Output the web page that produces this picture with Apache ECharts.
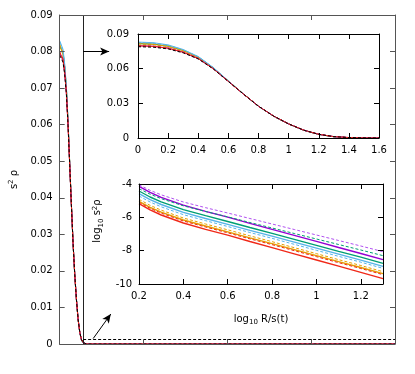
<!DOCTYPE html>
<html><head><meta charset="utf-8">
<script src="https://cdn.jsdelivr.net/npm/echarts/dist/echarts.min.js"></script>
<style>html,body{margin:0;padding:0;background:#fff}#c{width:415px;height:374px}</style>
</head><body><div id="c"></div>
<script>
// ---- profile s^2 rho vs R/s(t) (top inset and main panel) ----
const profX = [0,0.1,0.2,0.3,0.4,0.5,0.6,0.7,0.8,0.9,1.0,1.1,1.2,1.3,1.4,1.5,1.6];
const profBlack      = [0.0790,0.0786,0.0771,0.0737,0.0684,0.0598,0.0489,0.0380,0.0275,0.0190,0.0122,0.0068,0.0032,0.0012,0.0004,0.0001,0];
const profPurpleDash = [0.0795,0.0791,0.0775,0.0740,0.0686,0.0599,0.0489,0.0380,0.0275,0.0190,0.0122,0.0068,0.0032,0.0012,0.0004,0.0001,0];
const profPurple     = [0.0798,0.0794,0.0778,0.0743,0.0688,0.0600,0.0490,0.0380,0.0275,0.0190,0.0122,0.0068,0.0032,0.0012,0.0004,0.0001,0];
const profGreenDash  = [0.0815,0.0810,0.0793,0.0756,0.0698,0.0606,0.0493,0.0381,0.0275,0.0189,0.0121,0.0067,0.0031,0.0011,0.0003,0.0001,0];
const profGreen      = [0.0818,0.0813,0.0796,0.0758,0.0700,0.0607,0.0493,0.0381,0.0275,0.0189,0.0121,0.0067,0.0031,0.0011,0.0003,0.0001,0];
const profCyan       = [0.0830,0.0825,0.0806,0.0766,0.0705,0.0610,0.0494,0.0381,0.0274,0.0189,0.0121,0.0067,0.0031,0.0011,0.0003,0.0001,0];
const profCyanDash   = [0.0826,0.0821,0.0802,0.0763,0.0703,0.0609,0.0494,0.0381,0.0274,0.0189,0.0121,0.0067,0.0031,0.0011,0.0003,0.0001,0];
const profOrangeDash = [0.0820,0.0815,0.0797,0.0759,0.0700,0.0607,0.0493,0.0381,0.0275,0.0189,0.0121,0.0067,0.0031,0.0011,0.0003,0.0001,0];
const profOrange     = [0.0815,0.0810,0.0793,0.0756,0.0698,0.0606,0.0493,0.0381,0.0275,0.0189,0.0121,0.0067,0.0031,0.0011,0.0003,0.0001,0];
const profRedDash    = [0.0800,0.0796,0.0780,0.0745,0.0690,0.0600,0.0490,0.0380,0.0275,0.0190,0.0122,0.0068,0.0032,0.0012,0.0004,0.0001,0];
const profRed        = [0.0797,0.0793,0.0777,0.0742,0.0687,0.0599,0.0489,0.0380,0.0275,0.0190,0.0122,0.0068,0.0032,0.0012,0.0004,0.0001,0];
const mainTailX = 20; // profiles stay at zero out to the end of the main axis

// ---- log10 s^2 rho vs log10 R/s(t) (lower inset) ----
const logX = [0.2,0.25,0.3,0.4,0.5,0.6,0.7,0.8,0.9,1.0,1.1,1.2,1.3];
const logPurpleDash = [-4.05,-4.38,-4.65,-5.08,-5.42,-5.74,-6.07,-6.40,-6.73,-7.06,-7.39,-7.72,-8.06];
const logPurple     = [-4.14,-4.50,-4.80,-5.27,-5.64,-5.99,-6.36,-6.72,-7.08,-7.44,-7.81,-8.17,-8.54];
const logGreenDash  = [-4.28,-4.61,-4.88,-5.31,-5.65,-5.97,-6.31,-6.64,-6.97,-7.30,-7.63,-7.96,-8.30];
const logGreen      = [-4.42,-4.78,-5.07,-5.54,-5.90,-6.25,-6.61,-6.96,-7.32,-7.68,-8.04,-8.39,-8.76];
const logCyan       = [-4.58,-4.94,-5.23,-5.70,-6.07,-6.42,-6.78,-7.13,-7.49,-7.85,-8.21,-8.57,-8.94];
const logCyanDash   = [-4.72,-5.08,-5.37,-5.84,-6.20,-6.55,-6.91,-7.26,-7.62,-7.98,-8.34,-8.69,-9.06];
const logOrangeDash = [-4.92,-5.28,-5.57,-6.04,-6.40,-6.75,-7.11,-7.46,-7.82,-8.18,-8.54,-8.89,-9.26];
const logOrange     = [-5.04,-5.40,-5.69,-6.16,-6.52,-6.87,-7.23,-7.58,-7.94,-8.30,-8.66,-9.01,-9.38];
const logRedDash    = [-5.10,-5.46,-5.75,-6.22,-6.58,-6.93,-7.29,-7.64,-8.00,-8.36,-8.72,-9.07,-9.44];
const logRed        = [-5.18,-5.55,-5.86,-6.34,-6.72,-7.07,-7.45,-7.82,-8.19,-8.56,-8.93,-9.30,-9.68];

// annotation positions (data coords of the main panel)
const cutX = 1.4, zoomLevel = 0.0012;

const C = {purple:'#9400d3', purpleL:'#b050f0', green:'#009e73', cyan:'#56b4e9', orange:'#e69f00', red:'#f02818', black:'#000'};
const profiles = [
  {d:profGreenDash, c:C.green, dash:true},{d:profGreen, c:C.green},
  {d:profOrangeDash, c:C.orange, dash:true},{d:profOrange, c:C.orange},
  {d:profCyanDash, c:C.cyan, dash:true},{d:profCyan, c:C.cyan},
  {d:profPurpleDash, c:C.purpleL, dash:true},{d:profPurple, c:C.purple},
  {d:profRedDash, c:C.red, dash:true},{d:profRed, c:C.red},
  {d:profBlack, c:C.black, dash:true}
];
const logs = [
  {d:logPurpleDash, c:C.purpleL, dash:true},{d:logPurple, c:C.purple},
  {d:logGreenDash, c:C.green, dash:true},{d:logGreen, c:C.green},
  {d:logCyan, c:C.cyan},{d:logCyanDash, c:C.cyan, dash:true},
  {d:logOrangeDash, c:C.orange, dash:true},{d:logOrange, c:C.orange},
  {d:logRedDash, c:C.red, dash:true},{d:logRed, c:C.red}
];

const FONT = 'DejaVu Sans';
const txt = {fontFamily: FONT, fontSize: 10, color: '#000'};
const rich = {
  sub: {fontFamily: FONT, fontSize: 7, color:'#000', padding:[7,0,0,0]},
  sup: {fontFamily: FONT, fontSize: 7, color:'#000', padding:[0,0,6,0]},
  n: {fontFamily: FONT, fontSize: 10, color:'#000'}
};
function ax(o){
  return Object.assign({
    type:'value', splitLine:{show:false}, z:5,
    axisLine:{show:true, onZero:false, lineStyle:{color:'#000', width:1}},
    axisTick:{show:true, inside:true, length:5, lineStyle:{color:'#000'}},
    axisLabel:Object.assign({show:true, margin:7}, txt)
  }, o);
}
const mainLine = {show:true, onZero:false, lineStyle:{color:'#555', width:1}};
const mainTick = {show:true, inside:true, length:5, lineStyle:{color:'#555'}};

const series = [];
profiles.forEach(p => {
  const style = {color:p.c, width:1, type: p.dash ? [3,2] : 'solid'};
  series.push({type:'line', xAxisIndex:0, yAxisIndex:0, showSymbol:false, symbol:'none', lineStyle:style,
    data: profX.map((x,i)=>[x,p.d[i]]).concat([[mainTailX, 0]]), silent:true, clip:true, z:3});
  series.push({type:'line', xAxisIndex:2, yAxisIndex:2, showSymbol:false, symbol:'none', lineStyle:style,
    data: profX.map((x,i)=>[x,p.d[i]]), silent:true, clip:true, z:3});
});
logs.forEach(p => {
  series.push({type:'line', xAxisIndex:4, yAxisIndex:4, showSymbol:false, symbol:'none',
    lineStyle:{color:p.c, width: p.dash?1:1.4, type: p.dash ? [3,2] : 'solid'},
    data: logX.map((x,i)=>[x,p.d[i]]), silent:true, clip:true, z:3});
});
// annotations on main panel
series.push({type:'line', xAxisIndex:0, yAxisIndex:0, data:[], silent:true, z:4,
  markLine:{silent:true, symbol:['none','none'], label:{show:false}, animation:false,
    data:[
      [{coord:[cutX,0], lineStyle:{color:'#222', width:1, type:'solid'}},{coord:[cutX,0.09]}],
      [{coord:[cutX,zoomLevel], lineStyle:{color:'#000', width:1, type:[3,2]}},{coord:[mainTailX,zoomLevel]}],
      [{coord:[cutX,0.08], symbol:'none', lineStyle:{color:'#000', width:1, type:'solid'}},{coord:[2.95,0.08], symbol:'arrow', symbolSize:[6,9]}],
      [{coord:[2.0,0.0015], symbol:'none', lineStyle:{color:'#000', width:1, type:'solid'}},{coord:[3.05,0.0082], symbol:'arrow', symbolSize:[6,9]}]
    ]}});

const option = {
  animation:false,
  backgroundColor:'#fff',
  grid:[
    {left:54, top:15, width:341, height:329, show:false},
    {left:138, top:34, width:241, height:104, show:false},
    {left:139, top:184, width:244, height:100, show:false}
  ],
  xAxis:[
    ax({gridIndex:0, position:'bottom', min:0, max:20, interval:5, axisLabel:{show:false}, axisLine:mainLine, axisTick:mainTick}),
    ax({gridIndex:0, position:'top', min:0, max:20, interval:5, axisLabel:{show:false}, axisLine:mainLine, axisTick:mainTick}),
    ax({gridIndex:1, position:'bottom', min:0, max:1.6, interval:0.2}),
    ax({gridIndex:1, position:'top', min:0, max:1.6, interval:0.2, axisLabel:{show:false}}),
    ax({gridIndex:2, position:'bottom', min:0.2, max:1.3, interval:0.2,
        axisLabel:Object.assign({show:true, margin:7, showMaxLabel:false, formatter:v=>String(Math.round(v*10)/10)}, txt),
        name:'{n|log}{sub|10}{n| R/s(t)}', nameLocation:'middle', nameGap:28, nameTextStyle:{rich:rich}}),
    ax({gridIndex:2, position:'top', min:0.2, max:1.3, interval:0.2, axisLabel:{show:false}})
  ],
  yAxis:[
    ax({gridIndex:0, position:'left', min:0, max:0.09, interval:0.01, axisLine:mainLine, axisTick:mainTick,
        axisLabel:Object.assign({show:true, margin:7, formatter:v=>String(Math.round(v*100)/100)}, txt),
        name:'{n|s}{sup|2}{n| ρ}', nameLocation:'middle', nameGap:36, nameTextStyle:{rich:rich}}),
    ax({gridIndex:0, position:'right', min:0, max:0.09, interval:0.01, axisLabel:{show:false}, axisLine:mainLine, axisTick:mainTick}),
    ax({gridIndex:1, position:'left', min:0, max:0.09, interval:0.03,
        axisLabel:Object.assign({show:true, margin:9, formatter:v=>String(Math.round(v*100)/100)}, txt)}),
    ax({gridIndex:1, position:'right', min:0, max:0.09, interval:0.03, axisLabel:{show:false}}),
    ax({gridIndex:2, position:'left', min:-10, max:-4, interval:2,
        name:'{n|log}{sub|10}{n| s}{sup|2}{n|ρ}', nameLocation:'middle', nameGap:22, nameTextStyle:{rich:rich, padding:[0,0,0,26]}}),
    ax({gridIndex:2, position:'right', min:-10, max:-4, interval:2, axisLabel:{show:false}})
  ],
  series: series
};
const chart = echarts.init(document.getElementById('c'), null, {renderer:'canvas'});
chart.setOption(option);
</script>
</body></html>
